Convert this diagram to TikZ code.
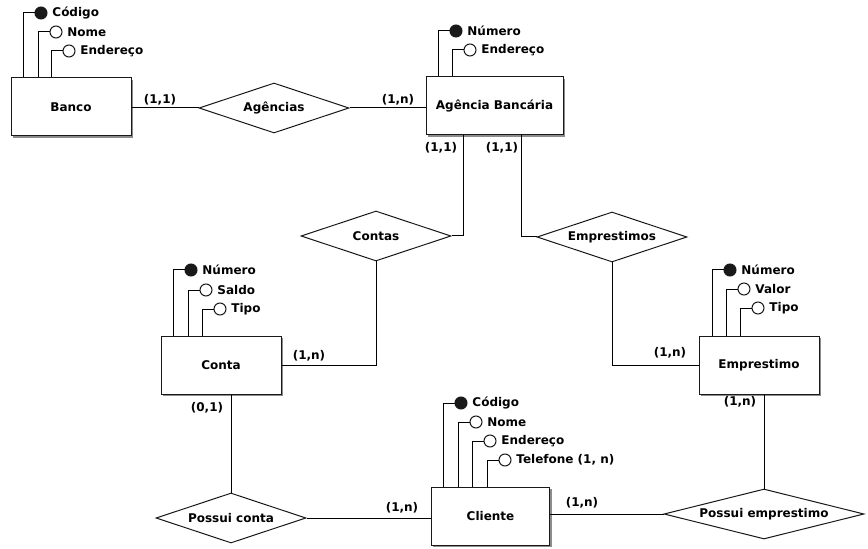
\documentclass[tikz,border=0pt]{standalone}
\usepackage{fontspec}
\setmainfont{DejaVu Sans}
\usetikzlibrary{calc, arrows.meta, positioning, shadows, shapes.geometric}
\definecolor{mainBlack}{gray}{0.1}
\definecolor{shadowGray}{gray}{0.55}

\tikzset{
    entity/.style={draw=mainBlack, fill=white, minimum width=90pt, minimum height=43.5pt, inner sep=0pt,
        drop shadow={shadow xshift=1.3pt, shadow yshift=-1.3pt, opacity=1, fill=shadowGray}, font=\bfseries\small},
    relation/.style={draw=mainBlack, fill=white, diamond, minimum width=112.5pt, minimum height=37.5pt, inner sep=0pt,
        label={[font=\bfseries\small]center:#1}},
    attr/.style={draw=mainBlack, fill=white, circle, minimum size=9pt, inner sep=0pt,
        label={[font=\bfseries\small, label distance=0pt]right:#1}},
    keyattr/.style={attr=#1, fill=mainBlack},
    card/.style={font=\bfseries\small, inner sep=0pt},
}

\begin{document}
\begin{tikzpicture}[x=0.75pt, y=-0.75pt, line width=0.75pt]
    \useasboundingbox (0,0) rectangle (868,549);

    % entidades
    \node[entity] (banco) at (71,107) {Banco};
    \node[entity, minimum width=102.75pt] (agencia) at (494.5,106) {Agência Bancária};
    \node[entity] (conta) at (221,365) {Conta};
    \node[entity] (emprestimo) at (759,365) {Emprestimo};
    \node[entity, minimum width=89pt] (cliente) at (490.5,516) {Cliente};

    % relacionamentos
    \node[relation=Agências] (agencias) at (274,108) {};
    \node[relation=Contas] (contas) at (376,236) {};
    \node[relation=Emprestimos] (emprestimos) at (612,237) {};
    \node[relation={Possui conta}] (possuiConta) at (231,518) {};
    \node[relation={Possui emprestimo}, minimum width=150pt] (possuiEmp) at (764,514) {};

    % atributos
    \node[keyattr=Código] (bCodigo) at (41,13) {};
    \node[attr=Nome] (bNome) at (56,32) {};
    \node[attr=Endereço] (bEndereco) at (69,51) {};
    \draw (bCodigo.west) -| ([xshift=-8.25pt]bCodigo.west |- banco.north);
    \draw (bNome.west) -| ([xshift=-8.25pt]bNome.west |- banco.north);
    \draw (bEndereco.west) -| ([xshift=-8.25pt]bEndereco.west |- banco.north);

    \node[keyattr=Número] (aNumero) at (456,31) {};
    \node[attr=Endereço] (aEndereco) at (470,50) {};
    \draw (aNumero.west) -| ([xshift=-8.25pt]aNumero.west |- agencia.north);
    \draw (aEndereco.west) -| ([xshift=-8.25pt]aEndereco.west |- agencia.north);

    \node[keyattr=Número] (cNumero) at (191,270) {};
    \node[attr=Saldo] (cSaldo) at (206,290) {};
    \node[attr=Tipo] (cTipo) at (220,309) {};
    \draw (cNumero.west) -| ([xshift=-8.25pt]cNumero.west |- conta.north);
    \draw (cSaldo.west) -| ([xshift=-8.25pt]cSaldo.west |- conta.north);
    \draw (cTipo.west) -| ([xshift=-8.25pt]cTipo.west |- conta.north);

    \node[keyattr=Número] (eNumero) at (730,270) {};
    \node[attr=Valor] (eValor) at (744,289) {};
    \node[attr=Tipo] (eTipo) at (758,308) {};
    \draw (eNumero.west) -| ([xshift=-8.25pt]eNumero.west |- emprestimo.north);
    \draw (eValor.west) -| ([xshift=-8.25pt]eValor.west |- emprestimo.north);
    \draw (eTipo.west) -| ([xshift=-8.25pt]eTipo.west |- emprestimo.north);

    \node[keyattr=Código] (lCodigo) at (461,403) {};
    \node[attr=Nome] (lNome) at (476,422) {};
    \node[attr=Endereço] (lEndereco) at (490,441) {};
    \node[attr={Telefone (1, n)}] (lTelefone) at (505,460) {};
    \draw (lCodigo.west) -| ([xshift=-8.25pt]lCodigo.west |- cliente.north);
    \draw (lNome.west) -| ([xshift=-8.25pt]lNome.west |- cliente.north);
    \draw (lEndereco.west) -| ([xshift=-8.25pt]lEndereco.west |- cliente.north);
    \draw (lTelefone.west) -| ([xshift=-8.25pt]lTelefone.west |- cliente.north);

    % ligacoes
    \draw (banco.east |- agencias.west) -- (agencias.west);
    \draw (agencias.east) -- (agencias.east -| agencia.west);
    \draw ([xshift=-23.6pt]agencia.south) |- (contas.east);
    \draw ([xshift=20.6pt]agencia.south) |- (emprestimos.west);
    \draw (contas.south) |- (conta.east);
    \draw (emprestimos.south) |- (emprestimo.west);
    \draw ([xshift=7.5pt]conta.south) -- (possuiConta.north);
    \draw (possuiConta.east) -- (possuiConta.east -| cliente.west);
    \draw (possuiEmp.west -| cliente.east) -- (possuiEmp.west);
    \draw ([xshift=3.75pt]emprestimo.south) -- (possuiEmp.north);

    % cardinalidades
    \node[card] (c1) at (160,100) {(1,1)};
    \node[card] (c2) at (398,100) {(1,n)};
    \node[card] (c3) at (441,148) {(1,1)};
    \node[card] (c4) at (502,148) {(1,1)};
    \node[card] (c5) at (309,356) {(1,n)};
    \node[card] (c6) at (670,353) {(1,n)};
    \node[card] (c7) at (207,408) {(0,1)};
    \node[card] (c8) at (402,508) {(1,n)};
    \node[card] (c9) at (582,503) {(1,n)};
    \node[card] (c10) at (740,402) {(1,n)};
\end{tikzpicture}
\end{document}
